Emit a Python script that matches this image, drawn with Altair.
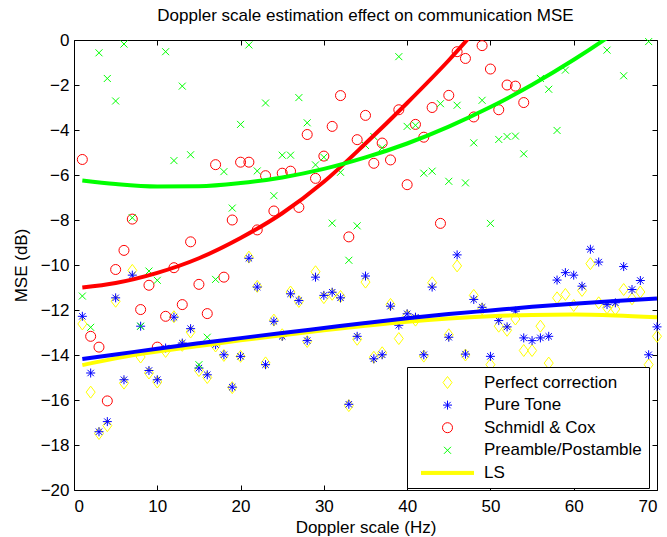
import altair as alt
import pandas as pd

# ---------------- data ----------------
doppler_hz = list(range(1, 71))

perfect_correction = [
    -12.62, -15.65, -17.49, -17.14, -11.61, -15.25, -10.24, -14.09, -14.80, -15.20,
    -13.84, -12.30, -13.57, -12.98, -14.69, -15.00, -13.60, -14.02, -15.45, -14.06,
    -9.65, -10.95, -14.35, -12.45, -13.10, -11.20, -11.62, -13.40, -10.30, -11.45,
    -11.30, -11.40, -16.25, -13.30, -10.76, -14.10, -13.90, -11.75, -13.27, -12.25,
    -12.45, -14.05, -10.79, -15.30, -13.10, -10.04, -14.00, -11.35, -11.95, -14.43,
    -12.72, -12.90, -12.40, -13.80, -13.80, -12.72, -14.36, -11.46, -11.31, -11.80,
    -11.13, -9.94, -11.68, -11.90, -11.96, -11.09, -11.50, -11.20, -14.43, -13.17,
]

pure_tone = [
    -12.28, -14.80, -17.41, -16.96, -11.46, -15.10, -10.45, -12.72, -14.69, -15.10,
    -13.69, -12.32, -13.47, -12.83, -14.58, -14.88, -13.54, -13.99, -15.43, -14.06,
    -9.70, -10.98, -14.43, -12.50, -13.17, -11.28, -11.58, -13.36, -10.54, -11.35,
    -11.21, -11.46, -16.19, -13.17, -10.49, -14.17, -13.99, -11.83, -12.68, -12.17,
    -12.32, -13.99, -10.98, -15.20, -13.21, -9.55, -13.96, -11.53, -11.88, -14.06,
    -12.47, -12.75, -12.05, -13.24, -13.36, -13.24, -13.17, -10.67, -10.34, -10.45,
    -10.94, -9.30, -9.87, -11.76, -11.68, -10.07, -11.09, -10.69, -13.99, -12.75,
]

schmidl_cox = [
    -5.31, -13.17, -13.65, -16.04, -10.20, -9.35, -7.96, -11.98, -10.90, -13.65,
    -12.28, -10.12, -11.76, -8.97, -10.86, -12.16, -5.54, -10.54, -8.00, -5.43,
    -5.43, -8.44, -6.03, -7.60, -5.92, -5.83, -7.44, -4.20, -6.15, -5.16,
    -3.84, -2.47, -8.75, -4.43, -3.35, -5.48, -4.58, -5.33, -3.10, -6.43,
    -3.75, -4.32, -3.00, -8.15, -2.46, -0.52, -0.82, -3.42, -0.25, -1.29,
    -3.10, -2.00, -2.05, -2.78, 0.60, 1.90, 0.90, 2.80, 1.50, 3.40,
    2.20, 4.10, 2.90, 3.70, 5.20, 4.40, 6.00, 5.10, 6.80, 7.50,
]

preamble_postamble = [
    -11.38, -12.77, -0.57, -1.71, -2.71, -0.18, -7.90, -12.72, -10.27, -10.68,
    -0.52, -5.36, -2.05, -5.10, -14.43, -13.21, -10.64, -5.85, -7.47, -3.75,
    -0.22, -5.82, -2.80, -6.92, -5.12, -5.12, -2.56, -3.68, -5.55, -5.21,
    -8.14, -5.88, -9.79, -8.26, -4.69, -4.29, -4.79, 0.40, -0.74, -3.84,
    -3.79, -5.92, -5.83, -2.83, -6.28, -2.90, -6.35, -4.57, -2.68, -8.15,
    -4.42, -4.29, -4.27, -5.06, 0.30, -1.71, -2.19, -4.02, -1.34, 0.80,
    0.20, 1.10, 0.50, -0.45, 1.40, -1.59, 0.90, 2.00, -0.07, 1.60,
]

# fitted (LS) curves
fit_x = [1, 5, 10, 15, 20, 25, 30, 35, 40, 45, 50, 55, 60, 65, 70]
fit_perfect = [-14.45, -14.15, -13.85, -13.60, -13.35, -13.12, -12.90, -12.70,
               -12.52, -12.38, -12.28, -12.22, -12.20, -12.24, -12.32]
fit_pure = [-14.18, -13.98, -13.72, -13.48, -13.25, -13.02, -12.80, -12.58,
            -12.37, -12.18, -12.02, -11.86, -11.72, -11.60, -11.49]
fit_schmidl = [-11.00, -10.80, -10.35, -9.70, -8.80, -7.70, -6.30, -4.60,
               -2.80, -0.90, 1.20, 3.40, 5.80, 8.30, 11.00]
fit_preamble = [-6.24, -6.40, -6.51, -6.50, -6.36, -6.11, -5.73, -5.22,
                -4.60, -3.85, -2.98, -1.99, -0.88, 0.35, 1.72]

series_names = ["Perfect correction", "Pure Tone", "Schmidl & Cox",
                "Preamble/Postamble", "LS"]
x_ticks = [0, 10, 20, 30, 40, 50, 60, 70]
y_ticks = [-20, -18, -16, -14, -12, -10, -8, -6, -4, -2, 0]

# ---------------- styling ----------------
YELLOW, BLUE, RED, GREEN = "#ffff00", "#0000ff", "#ff0000", "#00ff00"
series_colors = [YELLOW, BLUE, RED, GREEN, YELLOW]
DIAMOND = "M0,-1.2L0.9,0L0,1.2L-0.9,0Z"
STAR = "M0,-0.9L0,0.9M-0.9,0L0.9,0M-0.64,-0.64L0.64,0.64M-0.64,0.64L0.64,-0.64"
CROSS = "M-0.7,-0.7L0.7,0.7M-0.7,0.7L0.7,-0.7"
LSLINE = "".join(f"M-5.3,{v}L5.3,{v}" for v in ("-0.3", "-0.2", "-0.1", "0", "0.1", "0.2", "0.3"))
series_shapes = [DIAMOND, STAR, "circle", CROSS, LSLINE]
FONT = "Liberation Sans"

rows = []
for name, vals in zip(series_names[:4],
                      [perfect_correction, pure_tone, schmidl_cox, preamble_postamble]):
    for xv, yv in zip(doppler_hz, vals):
        rows.append({"x": xv, "y": yv, "series": name})
points_df = pd.DataFrame(rows)

x_scale = alt.Scale(domain=[0, 70], nice=False, zero=False)
y_scale = alt.Scale(domain=[-20, 0], nice=False, zero=False)

x_axis_bottom = alt.Axis(values=x_ticks, title="Doppler scale (Hz)", offset=-5,
                         tickSize=5, domain=False, grid=False, labelPadding=8,
                         titlePadding=5, format="d")
y_axis_left = alt.Axis(values=y_ticks, title="MSE (dB)", offset=-5, tickSize=5,
                       domain=False, grid=False, labelPadding=5, titlePadding=10,
                       format="d")
x_axis_top = alt.Axis(orient="top", values=x_ticks, labels=False, title=None,
                      offset=-5, tickSize=5, domain=False, grid=False)
y_axis_right = alt.Axis(orient="right", values=y_ticks, labels=False, title=None,
                        offset=-5, tickSize=5, domain=False, grid=False)

legend = alt.Legend(title=None, orient="none", legendX=333, legendY=327,
                    fillColor="white", strokeColor="black", padding=7,
                    symbolOffset=25, labelOffset=28, rowPadding=4.6,
                    labelFont=FONT, labelFontSize=17, labelColor="black",
                    symbolSize=100, symbolStrokeWidth=1, labelLimit=400)

points = alt.Chart(points_df).mark_point(
    filled=False, size=100, strokeWidth=1, opacity=1
).encode(
    x=alt.X("x:Q", scale=x_scale, axis=x_axis_bottom),
    y=alt.Y("y:Q", scale=y_scale, axis=y_axis_left),
    color=alt.Color("series:N", scale=alt.Scale(domain=series_names, range=series_colors),
                    legend=legend),
    shape=alt.Shape("series:N", scale=alt.Scale(domain=series_names, range=series_shapes),
                    legend=legend),
).transform_filter("datum.y <= 0")


def fit_layer(vals, color, top_right=False):
    df = pd.DataFrame({"x": fit_x, "y": vals})
    xa = x_axis_top if top_right else None
    ya = y_axis_right if top_right else None
    return alt.Chart(df).mark_line(
        clip=True, strokeWidth=4, interpolate="monotone", color=color
    ).encode(
        x=alt.X("x:Q", scale=x_scale, axis=xa),
        y=alt.Y("y:Q", scale=y_scale, axis=ya),
    )


chart = alt.layer(
    points,
    fit_layer(fit_perfect, YELLOW),
    fit_layer(fit_pure, BLUE),
    fit_layer(fit_schmidl, RED),
    fit_layer(fit_preamble, GREEN, top_right=True),
).resolve_axis(
    x="independent", y="independent"
).properties(
    width=583, height=450,
    autosize=alt.AutoSizeParams(type="none"),
    padding={"left": 74, "top": 40, "right": 10, "bottom": 47},
    title=alt.TitleParams("Doppler scale estimation effect on communication MSE",
                          font=FONT, fontSize=17, fontWeight="normal", color="black",
                          anchor="middle", offset=6),
).configure_view(
    stroke="black", strokeWidth=1
).configure_axis(
    labelFont=FONT, labelFontSize=17, labelColor="black",
    titleFont=FONT, titleFontSize=17, titleFontWeight="normal", titleColor="black",
    tickColor="black", tickWidth=1,
)

chart.save("out.html", embed_options={"renderer": "svg", "actions": False})
